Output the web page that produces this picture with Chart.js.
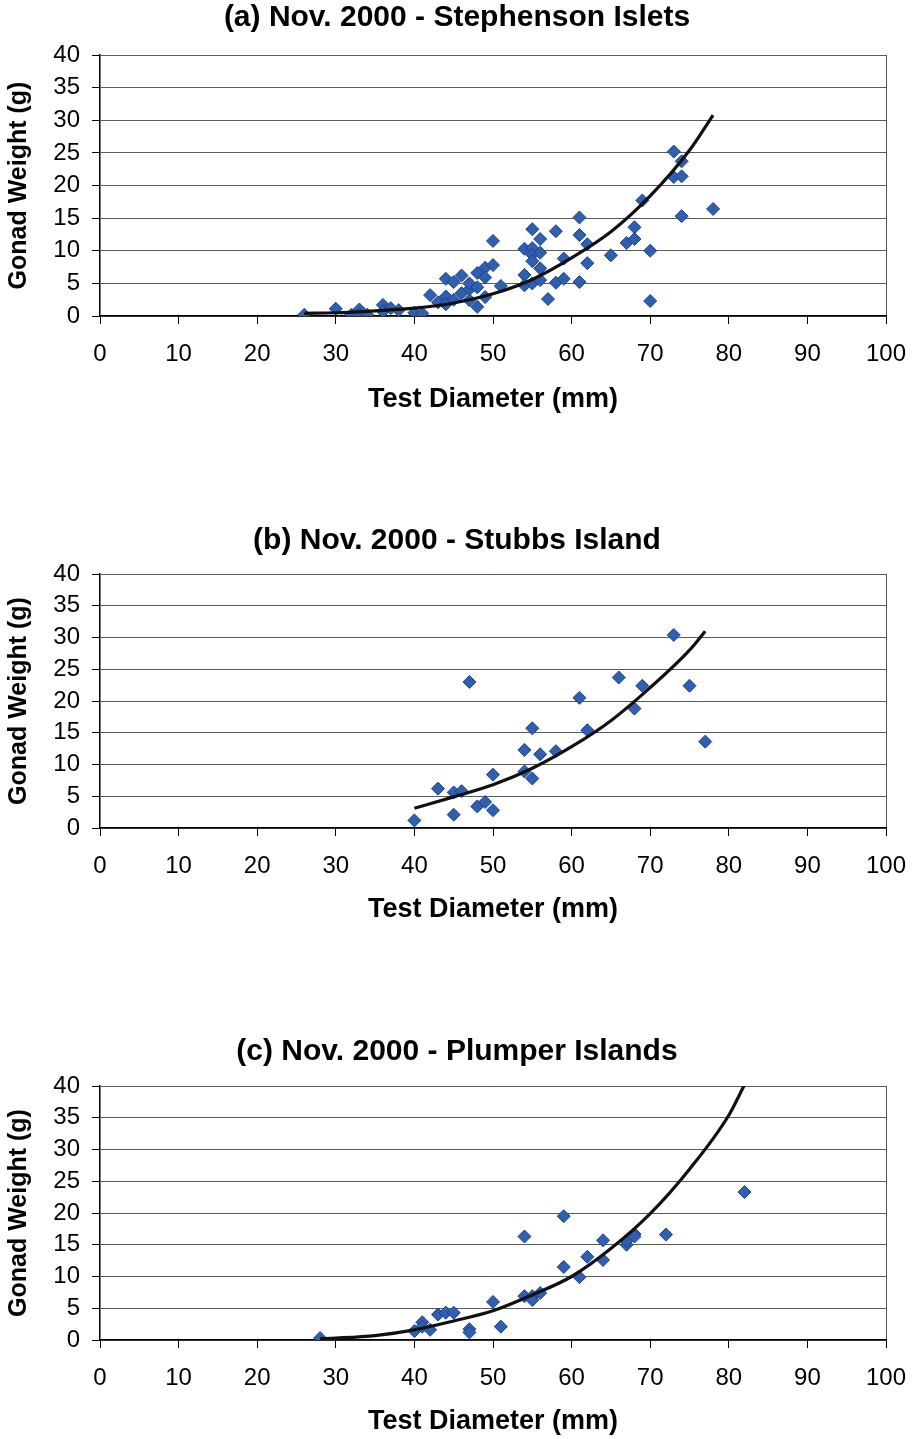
<!DOCTYPE html>
<html lang="en">
<head>
<meta charset="utf-8" />
<title>Gonad Weight vs Test Diameter - Nov. 2000</title>
<style>
html,body{margin:0;padding:0;background:#fff;overflow:hidden;}
.panel{position:absolute;left:0;}
</style>
</head>
<body>
<canvas id="chartA" class="panel" style="top:0px"></canvas>
<canvas id="chartB" class="panel" style="top:512px"></canvas>
<canvas id="chartC" class="panel" style="top:1024px"></canvas>

<script src="https://cdn.jsdelivr.net/npm/chart.js@4.4.1"></script>
<script>
/* ---------- data ---------- */
/* (a) Stephenson Islets */
const aDiam   = [26,30,32,33,33,34,36,36,37,38,40,41,42,43,44,44,44,45,45,46,46,47,47,47,48,48,48,49,49,49,50,50,51,
                 54,54,54,55,55,55,55,55,56,56,56,56,57,58,58,59,59,61,61,61,62,62,65,67,68,68,69,70,70,73,73,74,74,74,78];
const aWeight = [0.2,1.1,0.2,1.0,0.2,0.2,1.7,0.7,1.2,0.9,0.5,0.4,3.2,2.1,5.7,3.0,1.8,5.2,2.5,6.2,3.5,4.1,5.0,2.4,6.6,4.4,1.4,7.4,5.9,2.9,11.5,7.8,4.6,
                 10.3,6.3,4.7,13.3,10.4,9.4,8.4,5.0,11.8,9.7,7.3,5.5,2.6,13.0,5.1,8.8,5.7,15.1,12.4,5.2,11.0,8.1,9.3,11.2,13.6,11.8,17.7,10.0,2.3,25.2,21.3,23.7,21.4,15.3,16.4];
const aFitDiam   = [26,30,35,40,45,50,55,60,65,70,75,78];
const aFitWeight = [0.4,0.5,0.8,1.2,2.0,3.4,5.6,8.9,12.9,18.4,25.4,30.8];

/* (b) Stubbs Island */
const bDiam   = [40,43,45,46,45,47,48,49,50,50,54,54,55,55,56,58,61,62,66,68,69,73,75,77];
const bWeight = [1.2,6.2,5.6,5.8,2.1,23.0,3.4,4.1,2.8,8.4,12.3,8.9,7.8,15.7,11.6,12.1,20.5,15.4,23.7,18.8,22.4,30.4,22.4,13.6];
const bFitDiam   = [40,45,50,55,60,65,70,75,77];
const bFitWeight = [3.1,4.9,6.8,9.4,12.8,16.9,22.1,28.0,31.0];

/* (c) Plumper Islands */
const cDiam   = [28,40,41,41,42,43,44,45,47,47,50,51,54,54,55,55,56,59,59,61,62,64,64,67,67,68,68,72,82];
const cWeight = [0.3,1.4,2.8,2.1,1.6,4.0,4.3,4.3,1.7,1.2,6.0,2.1,16.3,6.9,6.9,6.3,7.4,19.5,11.5,9.9,13.1,15.7,12.6,15.0,15.6,16.7,16.3,16.6,23.3];
const cFitDiam   = [28,30,35,40,45,50,55,60,65,70,75,80,82];
const cFitWeight = [0.2,0.3,0.7,1.6,3.0,4.6,7.1,10.0,14.4,19.9,26.9,35.4,40.2];

/* axis ticks */
const xTicks = [0,10,20,30,40,50,60,70,80,90,100];
const yTicks = [0,5,10,15,20,25,30,35,40];

/* ---------- chart helper ---------- */
Chart.defaults.animation = false;
Chart.defaults.font.family = '"Liberation Sans", Arial, Helvetica, sans-serif';
Chart.defaults.color = '#000';

const pairs = (xs, ys) => xs.map((x, i) => ({x, y: ys[i]}));

function makePanel({canvasId, title, titleTop, titleBottom, xTitleBottom, diam, weight, fitDiam, fitWeight}){
    const cv = document.getElementById(canvasId);
    cv.width = 914; cv.height = 420;
    new Chart(cv, {
        type: 'scatter',
        data: {
            datasets: [
                {   /* fitted curve, drawn on top */
                    data: pairs(fitDiam, fitWeight),
                    showLine: true,
                    borderColor: '#111',
                    borderWidth: 3.2,
                    pointRadius: 0,
                    cubicInterpolationMode: 'monotone'
                },
                {
                    data: pairs(diam, weight),
                    pointStyle: 'rectRot',
                    pointRadius: 6.5,
                    backgroundColor: '#2f5fae',
                    borderColor: '#1d4190',
                    borderWidth: 1
                }
            ]
        },
        options: {
            responsive: false,
            layout: {padding: 0},
            plugins: {
                legend: {display: false},
                tooltip: {enabled: false},
                title: {
                    display: true,
                    text: title,
                    font: {size: 30, weight: 'bold'},
                    padding: {top: titleTop, bottom: titleBottom}
                }
            },
            scales: {
                x: {
                    type: 'linear', min: 0, max: 100,
                    afterBuildTicks: s => { s.ticks = xTicks.map(v => ({value: v})); },
                    afterFit: s => { s.height = 104; s.paddingLeft = 0; s.paddingRight = 0; },
                    ticks: {font: {size: 24}, padding: 16, autoSkip: false, maxRotation: 0},
                    grid: {
                        drawOnChartArea: true,
                        color: c => c.tick && c.tick.value === 100 ? '#555' : 'rgba(0,0,0,0)',
                        tickColor: '#000',
                        tickLength: 8
                    },
                    border: {display: true, color: '#000', width: 1.5},
                    title: {
                        display: true,
                        text: 'Test Diameter (mm)',
                        font: {size: 27, weight: 'bold'},
                        padding: {top: 0, bottom: xTitleBottom}
                    }
                },
                y: {
                    type: 'linear', min: 0, max: 40,
                    afterBuildTicks: s => { s.ticks = yTicks.map(v => ({value: v})); },
                    afterFit: s => { s.width = 100; },
                    ticks: {font: {size: 24}, padding: 12, autoSkip: false},
                    grid: {color: '#5a5a5a', tickColor: '#000', tickLength: 8},
                    border: {display: true, color: '#000', width: 1.5},
                    title: {
                        display: true,
                        text: 'Gonad Weight (g)',
                        font: {size: 25, weight: 'bold'},
                        padding: {top: 4, bottom: 0}
                    }
                },
                /* empty right-hand strip so the title stays centred on the page */
                yRight: {
                    type: 'linear', position: 'right', min: 0, max: 40,
                    afterFit: s => { s.width = 28; s.paddingTop = 0; s.paddingBottom = 0; },
                    ticks: {display: false},
                    grid: {display: false, drawTicks: false},
                    border: {display: false}
                }
            }
        }
    });
}

makePanel({canvasId: 'chartA', title: '(a) Nov. 2000 - Stephenson Islets', titleTop: 0, titleBottom: 19, xTitleBottom: 3.8,
           diam: aDiam, weight: aWeight, fitDiam: aFitDiam, fitWeight: aFitWeight});
makePanel({canvasId: 'chartB', title: '(b) Nov. 2000 - Stubbs Island', titleTop: 11, titleBottom: 15, xTitleBottom: 5.8,
           diam: bDiam, weight: bWeight, fitDiam: bFitDiam, fitWeight: bFitWeight});
makePanel({canvasId: 'chartC', title: '(c) Nov. 2000 - Plumper Islands', titleTop: 10, titleBottom: 16, xTitleBottom: 5.8,
           diam: cDiam, weight: cWeight, fitDiam: cFitDiam, fitWeight: cFitWeight});
</script>
</body>
</html>
